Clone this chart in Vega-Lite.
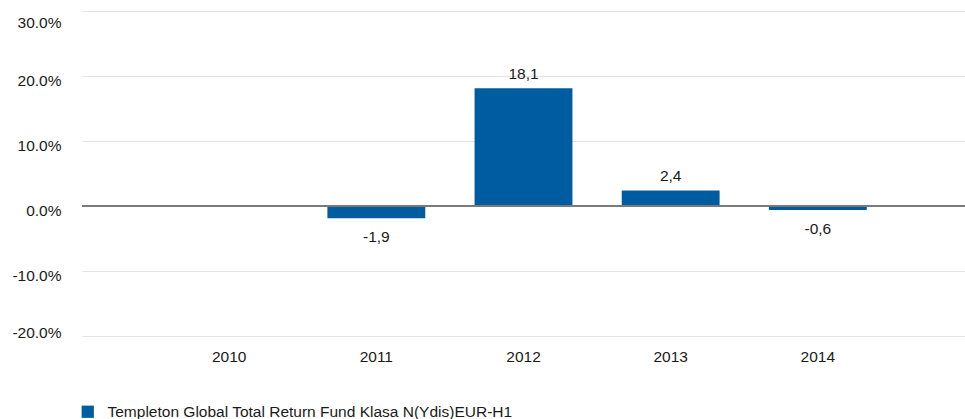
{
  "$schema": "https://vega.github.io/schema/vega-lite/v6.json",
  "width": 883,
  "height": 325,
  "autosize": {"type": "none"},
  "padding": {"left": 82, "top": 11, "right": 0, "bottom": 83},
  "background": "white",
  "config": {
    "view": {"stroke": null},
    "font": "Liberation Sans, Arial",
    "locale": {"number": {"decimal": ".", "thousands": ",", "grouping": [3], "currency": ["$", ""], "minus": "-"}}
  },
  "data": {
    "values": [
      {"year": "2010", "value": null, "label": "", "series": "Templeton Global Total Return Fund Klasa N(Ydis)EUR-H1"},
      {"year": "2011", "value": -0.019, "label": "-1,9", "series": "Templeton Global Total Return Fund Klasa N(Ydis)EUR-H1"},
      {"year": "2012", "value": 0.181, "label": "18,1", "series": "Templeton Global Total Return Fund Klasa N(Ydis)EUR-H1"},
      {"year": "2013", "value": 0.024, "label": "2,4", "series": "Templeton Global Total Return Fund Klasa N(Ydis)EUR-H1"},
      {"year": "2014", "value": -0.006, "label": "-0,6", "series": "Templeton Global Total Return Fund Klasa N(Ydis)EUR-H1"}
    ]
  },
  "encoding": {
    "x": {
      "field": "year", "type": "nominal", "sort": null,
      "scale": {"domain": ["2010", "2011", "2012", "2013", "2014"], "paddingInner": 0, "paddingOuter": 0.5},
      "axis": {"title": null, "labelAngle": 0, "domain": false, "ticks": false, "grid": false, "labelFontSize": 15.5, "labelColor": "#1a1a1a", "labelPadding": 13}
    },
    "y": {
      "field": "value", "type": "quantitative",
      "scale": {"domain": [-0.2, 0.3], "nice": false, "zero": false},
      "axis": {"title": null, "format": ".1%", "values": [-0.2, -0.1, 0, 0.1, 0.2, 0.3], "domain": false, "ticks": false, "grid": true, "gridColor": "#e3e3e3", "gridWidth": 1, "labelFontSize": 15.5, "labelColor": "#1a1a1a", "labelPadding": 21, "labelOffset": 4, "labelFlush": true, "labelFlushOffset": 0}
    }
  },
  "layer": [
    {
      "mark": {"type": "bar", "width": {"band": 0.665}},
      "encoding": {
        "color": {
          "field": "series", "type": "nominal",
          "scale": {"range": ["#005ca1"]},
          "legend": {"title": null, "orient": "none", "legendX": -2, "legendY": 393, "symbolType": "square", "symbolSize": 150, "symbolStrokeWidth": 0, "labelFontSize": 15.5, "labelColor": "#1a1a1a", "labelLimit": 800, "symbolOffset": 0, "labelOffset": 12}
        }
      }
    },
    {
      "transform": [{"filter": "datum.value > 0"}],
      "mark": {"type": "text", "baseline": "bottom", "dy": -6, "fontSize": 15.5, "color": "#1a1a1a"},
      "encoding": {"text": {"field": "label"}}
    },
    {
      "transform": [{"filter": "datum.value < 0"}],
      "mark": {"type": "text", "baseline": "top", "dy": 12, "fontSize": 15.5, "color": "#1a1a1a"},
      "encoding": {"text": {"field": "label"}}
    },
    {
      "mark": {"type": "rule", "color": "#7a7a7a", "strokeWidth": 2},
      "encoding": {"y": {"datum": 0}, "x": null}
    }
  ]
}
